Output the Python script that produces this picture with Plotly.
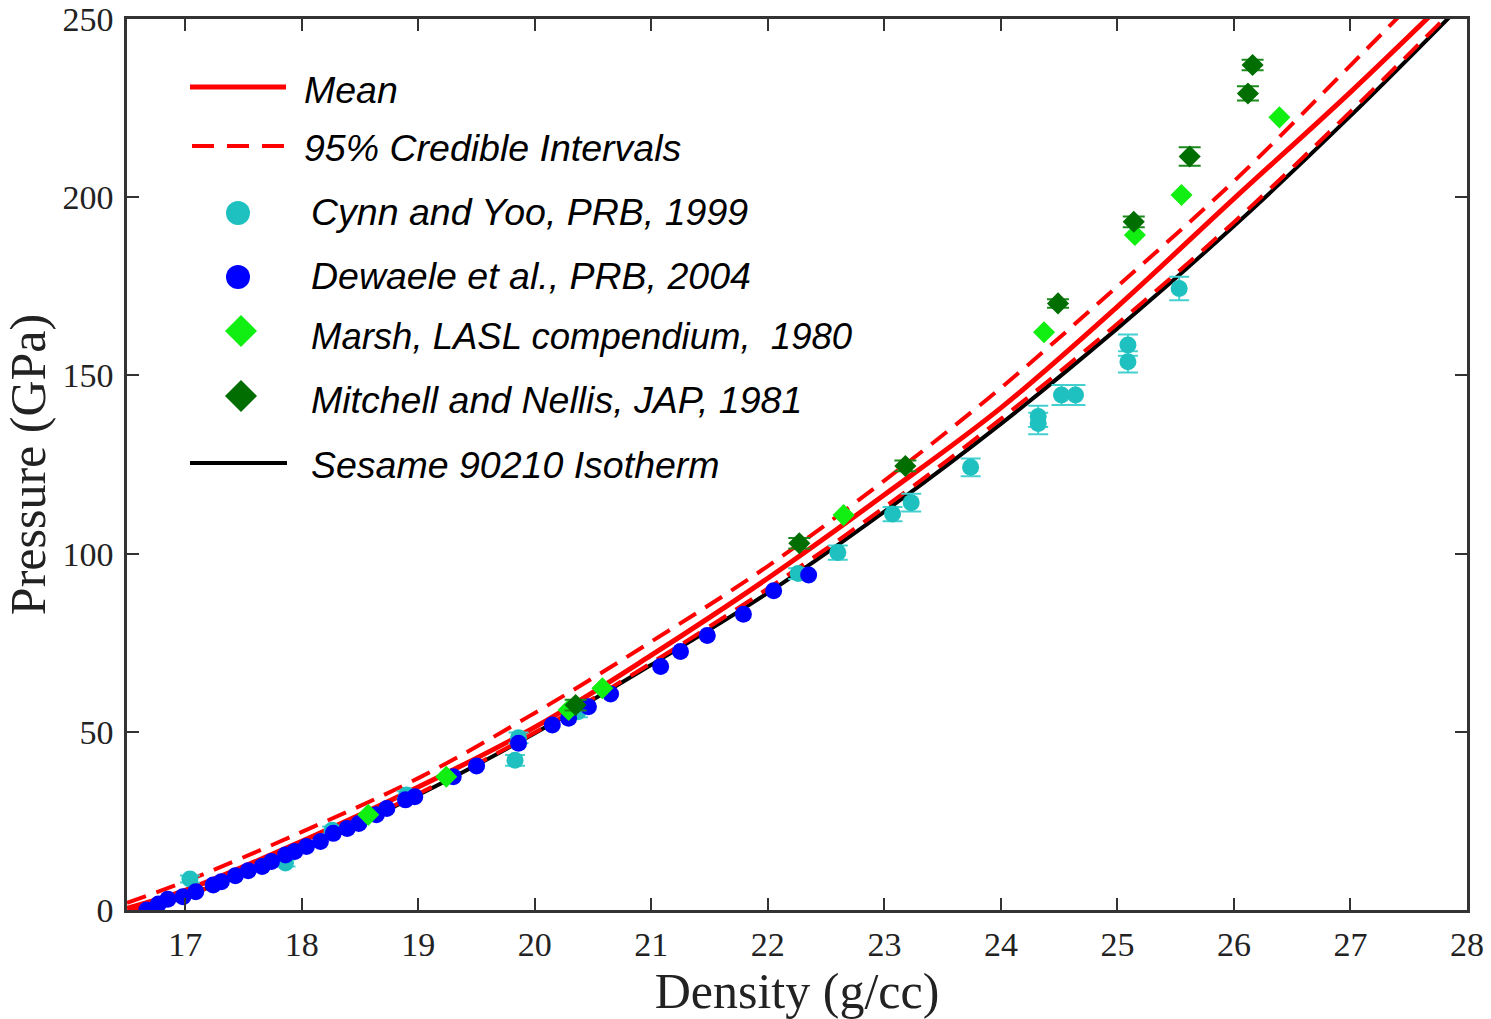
import plotly.graph_objects as go

# ---------------- data ----------------
density_grid = [16.5, 17, 18, 19, 20, 21, 22, 23, 24, 25, 26, 27, 28]
mean_p   = [0.5, 5.5, 19.3, 34.5, 51.3, 71.5, 93.1, 116.5, 140.9, 169.3, 199.6, 229.5, 261.0]
upper_p  = [2.0, 8.0, 21.9, 37.0, 55.3, 75.3, 96.5, 120.5, 146.5, 175.0, 204.5, 237.0, 270.0]
lower_p  = [-0.5, 3.9, 17.5, 32.6, 49.8, 69.3, 90.2, 113.0, 137.8, 164.5, 193.0, 224.0, 256.5]
sesame_p = [-1.8, 3.8, 17.3, 32.3, 49.6, 68.8, 89.0, 111.8, 136.4, 163.2, 191.9, 222.8, 255.5]

cynn_x = [17.04, 17.86, 18.26, 18.90, 19.83, 19.86, 20.37, 22.26, 22.60, 23.07, 23.23,
          23.74, 24.32, 24.32, 24.52, 24.64, 25.09, 25.09, 25.53]
cynn_y = [8.7, 13.2, 22.4, 32.3, 42.0, 48.3, 55.6, 94.4, 100.3, 111.1, 114.3,
          124.2, 138.5, 136.5, 144.5, 144.5, 158.5, 153.8, 174.4]
cynn_err = [1.0, 1.0, 1.0, 1.0, 1.5, 1.5, 1.5, 1.5, 2.0, 2.0, 2.5,
            2.5, 3.0, 3.0, 2.8, 2.8, 3.0, 3.0, 3.3]

dew_x = [16.67, 16.77, 16.85, 16.98, 17.09, 17.24, 17.31, 17.43, 17.54, 17.66, 17.74, 17.86,
         17.94, 18.04, 18.16, 18.27, 18.39, 18.49, 18.64, 18.73, 18.89, 18.97, 19.30, 19.50,
         19.86, 20.15, 20.29, 20.46, 20.65, 21.08, 21.25, 21.48, 21.79, 22.05, 22.35]
dew_y = [0.0, 1.7, 3.0, 3.7, 5.1, 7.0, 7.9, 9.6, 11.0, 12.2, 13.6, 15.4,
         16.4, 17.8, 19.2, 21.5, 22.9, 24.3, 26.7, 28.5, 30.9, 31.8, 37.4, 40.4,
         46.8, 51.9, 53.8, 57.0, 60.6, 68.3, 72.5, 77.0, 83.0, 89.6, 94.0]

marsh_x = [18.57, 19.24, 20.29, 20.58, 22.65, 24.37, 25.15, 25.55, 26.39]
marsh_y = [26.7, 37.4, 56.1, 62.2, 110.8, 162.1, 189.4, 200.6, 222.4]

mn_x = [20.35, 22.27, 23.18, 24.49, 25.14, 25.62, 26.12, 26.16]
mn_y = [57.5, 102.9, 124.6, 170.2, 193.1, 211.4, 229.1, 237.1]
mn_err = [1.5, 1.5, 1.5, 1.2, 1.5, 2.6, 2.0, 1.5]

x_ticks = [17, 18, 19, 20, 21, 22, 23, 24, 25, 26, 27, 28]
y_ticks = [0, 50, 100, 150, 200, 250]

legend_labels = ["Mean", "95% Credible Intervals", "Cynn and Yoo, PRB, 1999",
                 "Dewaele et al., PRB, 2004", "Marsh, LASL compendium,&nbsp; 1980",
                 "Mitchell and Nellis, JAP, 1981", "Sesame 90210 Isotherm"]

# ---------------- styles ----------------
RED = "#FF0000"
CYAN = "#1FC0C0"
BLUE = "#0000FF"
LGREEN = "#11EE11"
DGREEN = "#006E00"
DASH = "20px,11px"

W, H = 1491, 1019
# plot area in window pixels: left 127, top 19, right 1467, bottom 910
L, T = 127, 19
R = W - 1467
B = H - 910
PW, PH = W - L - R, H - T - B

fig = go.Figure()

# curves
fig.add_trace(go.Scatter(x=density_grid, y=sesame_p, mode="lines", line=dict(color="black", width=4, shape="spline"), showlegend=False))
fig.add_trace(go.Scatter(x=density_grid, y=upper_p, mode="lines", line=dict(color=RED, width=4, dash=DASH, shape="spline"), showlegend=False))
fig.add_trace(go.Scatter(x=density_grid, y=lower_p, mode="lines", line=dict(color=RED, width=4, dash=DASH, shape="spline"), showlegend=False))
fig.add_trace(go.Scatter(x=density_grid, y=mean_p, mode="lines", line=dict(color=RED, width=5, shape="spline"), showlegend=False))

# data
fig.add_trace(go.Scatter(x=cynn_x, y=cynn_y, mode="markers",
                         marker=dict(color=CYAN, size=17, symbol="circle"),
                         error_y=dict(type="data", array=cynn_err, color="#45D0D0", thickness=2, width=10),
                         showlegend=False))
fig.add_trace(go.Scatter(x=dew_x, y=dew_y, mode="markers",
                         marker=dict(color=BLUE, size=17, symbol="circle"), showlegend=False))
fig.add_trace(go.Scatter(x=marsh_x, y=marsh_y, mode="markers",
                         marker=dict(color=LGREEN, size=17, symbol="diamond"), showlegend=False))
fig.add_trace(go.Scatter(x=mn_x, y=mn_y, mode="markers",
                         marker=dict(color=DGREEN, size=17, symbol="diamond"),
                         error_y=dict(type="data", array=mn_err, color="#1E8A1E", thickness=2, width=11),
                         showlegend=False))

# ---------------- manual legend (window pixel layout -> paper coords) ----------------
def px(xp):
    return (xp - L) / PW

def py(yp):
    return (H - B - yp) / PH

shapes = []
annots = []
rows = [90, 148, 212, 276, 336, 400, 465]
text_x = [302, 302, 309, 309, 309, 309, 309]
text_size = [37.5, 37.5, 37.5, 37.5, 36.5, 37.5, 37.5]

shapes.append(dict(type="line", xref="paper", yref="paper", x0=px(190), x1=px(286), y0=py(87), y1=py(87),
                   line=dict(color=RED, width=5)))
shapes.append(dict(type="line", xref="paper", yref="paper", x0=px(192), x1=px(290), y0=py(146), y1=py(146),
                   line=dict(color=RED, width=4, dash="22px,13px")))
for yc, col in [(213, CYAN), (277, BLUE)]:
    r = 12
    shapes.append(dict(type="circle", xref="paper", yref="paper", x0=px(238 - r), x1=px(238 + r),
                       y0=py(yc + r), y1=py(yc - r), fillcolor=col, line=dict(color=col, width=0)))
for yc, col in [(331, LGREEN), (396, DGREEN)]:
    d = 16
    path = (f"M {px(241)},{py(yc - d)} L {px(241 + d)},{py(yc)} L {px(241)},{py(yc + d)} "
            f"L {px(241 - d)},{py(yc)} Z")
    shapes.append(dict(type="path", xref="paper", yref="paper", path=path, fillcolor=col,
                       line=dict(color=col, width=0)))
shapes.append(dict(type="line", xref="paper", yref="paper", x0=px(190), x1=px(287), y0=py(463), y1=py(463),
                   line=dict(color="black", width=4)))

for lab, yr, tx, fs in zip(legend_labels, rows, text_x, text_size):
    annots.append(dict(text=f"<i>{lab}</i>", xref="paper", yref="paper", x=px(tx), y=py(yr),
                       xanchor="left", yanchor="middle", showarrow=False,
                       font=dict(family="Liberation Sans, Arial", size=fs, color="black")))

axis_common = dict(showline=True, linewidth=2.5, linecolor="#333333", mirror="ticks",
                   ticks="inside", ticklen=12, tickwidth=2, tickcolor="#333333",
                   showgrid=False, zeroline=False, automargin=False,
                   ticklabeloverflow="allow",
                   tickfont=dict(family="Liberation Serif, Times New Roman", size=34, color="#222222"))

fig.update_layout(
    width=W, height=H,
    margin=dict(l=L, r=R, t=T, b=B),
    plot_bgcolor="white", paper_bgcolor="white",
    showlegend=False,
    shapes=shapes, annotations=annots,
    xaxis=dict(range=[16.5, 28], tickvals=x_ticks, ticktext=[str(v) for v in x_ticks],
               ticklabelstandoff=2,
               title=dict(text="Density (g/cc)", standoff=13,
                          font=dict(family="Liberation Serif, Times New Roman", size=50, color="#222222")),
               **axis_common),
    yaxis=dict(range=[0, 250], tickvals=y_ticks, ticktext=[str(v) for v in y_ticks],
               ticklabelstandoff=4,
               title=dict(text="Pressure (GPa)", standoff=9,
                          font=dict(family="Liberation Serif, Times New Roman", size=50, color="#222222")),
               **axis_common),
)

# remove the browser's default 8px body margin so the figure fills the window exactly
fig.write_html("out.html", config={"displayModeBar": False},
               post_script="document.body.style.margin='0px';")
